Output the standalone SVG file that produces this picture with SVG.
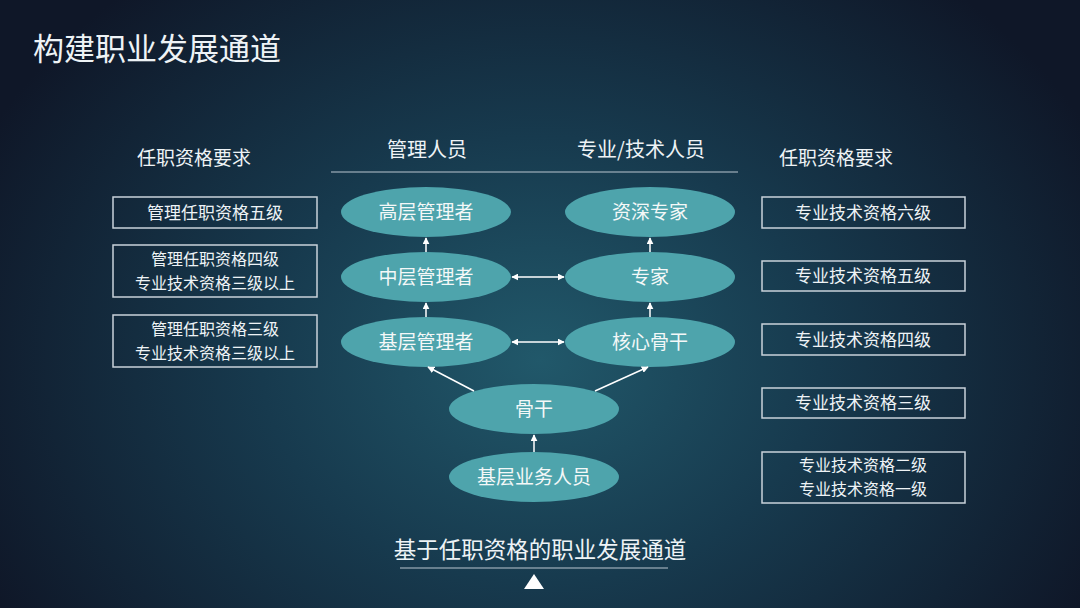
<svg xmlns="http://www.w3.org/2000/svg" width="1080" height="608" viewBox="0 0 1080 608">
<defs>
<radialGradient id="bg" cx="540" cy="360" r="620" gradientUnits="userSpaceOnUse" gradientTransform="translate(540 360) scale(1 0.8) translate(-540 -360)">
<stop offset="0" stop-color="#21586a"/>
<stop offset="0.45" stop-color="#173a4e"/>
<stop offset="1" stop-color="#0f1728"/>
</radialGradient>
<marker id="ah" viewBox="0 0 10 10" refX="9" refY="5" markerWidth="7" markerHeight="7" markerUnits="userSpaceOnUse" orient="auto-start-reverse">
<path d="M0,0 L10,5 L0,10 z" fill="#ffffff"/>
</marker>
<style>
text{font-family:"Noto Sans CJK SC","Noto Sans",sans-serif;fill:#eef3f6;text-anchor:middle;}
.node ellipse{fill:#4ea4ac;}
.node text{font-size:19px;fill:#f4f8f8;}
.box rect{fill:none;stroke:#c9d2da;stroke-width:1.5;}
.box text{font-size:17px;}
.box text.two{font-size:16px;}
.hdr{font-size:20px;}
.conn line{stroke:#ffffff;stroke-width:1.5;marker-end:url(#ah);}
.conn line.bi{marker-start:url(#ah);}
</style>
</defs>
<rect width="1080" height="608" fill="url(#bg)"/>
<text x="33" y="60" style="font-size:31px;text-anchor:start">构建职业发展通道</text>

<g id="headers">
<text class="hdr" x="194" y="165" style="font-size:19px">任职资格要求</text>
<text class="hdr" x="427" y="157">管理人员</text>
<text class="hdr" x="641" y="157">专业/技术人员</text>
<text class="hdr" x="836" y="165" style="font-size:19px">任职资格要求</text>
<line x1="331" y1="172" x2="738" y2="172" stroke="#b9c6cf" stroke-width="1.2"/>
</g>

<g id="n-gaoceng" class="node"><ellipse cx="426" cy="212" rx="85" ry="25"/><text x="426" y="219">高层管理者</text></g>
<g id="n-zishen" class="node"><ellipse cx="650" cy="212" rx="85" ry="25"/><text x="650" y="219">资深专家</text></g>
<g id="n-zhongceng" class="node"><ellipse cx="426" cy="277" rx="85" ry="25"/><text x="426" y="284">中层管理者</text></g>
<g id="n-zhuanjia" class="node"><ellipse cx="650" cy="277" rx="85" ry="25"/><text x="650" y="284">专家</text></g>
<g id="n-jiceng" class="node"><ellipse cx="426" cy="342" rx="85" ry="25"/><text x="426" y="349">基层管理者</text></g>
<g id="n-hexin" class="node"><ellipse cx="650" cy="342" rx="85" ry="25"/><text x="650" y="349">核心骨干</text></g>
<g id="n-gugan" class="node"><ellipse cx="534" cy="409" rx="85" ry="25"/><text x="534" y="416">骨干</text></g>
<g id="n-yewu" class="node"><ellipse cx="534" cy="477" rx="85" ry="25"/><text x="534" y="484">基层业务人员</text></g>

<g id="connectors" class="conn">
<line x1="426" y1="252" x2="426" y2="238"/>
<line x1="650" y1="252" x2="650" y2="238"/>
<line x1="426" y1="317" x2="426" y2="303"/>
<line x1="650" y1="317" x2="650" y2="303"/>
<line class="bi" x1="512" y1="277" x2="564" y2="277"/>
<line class="bi" x1="512" y1="342" x2="564" y2="342"/>
<line x1="474" y1="391" x2="428" y2="367"/>
<line x1="595" y1="391" x2="648" y2="367"/>
<line x1="534" y1="452" x2="534" y2="435"/>
</g>

<g id="b-l1" class="box"><rect x="113" y="197" width="204" height="31"/><text x="215" y="219">管理任职资格五级</text></g>
<g id="b-l2" class="box"><rect x="113" y="245" width="204" height="52"/><text class="two" x="215" y="265">管理任职资格四级</text><text class="two" x="215" y="289">专业技术资格三级以上</text></g>
<g id="b-l3" class="box"><rect x="113" y="315" width="204" height="52"/><text class="two" x="215" y="335">管理任职资格三级</text><text class="two" x="215" y="359">专业技术资格三级以上</text></g>

<g id="b-r1" class="box"><rect x="762" y="197" width="203" height="31"/><text x="863" y="219">专业技术资格六级</text></g>
<g id="b-r2" class="box"><rect x="762" y="261" width="203" height="30"/><text x="863" y="282">专业技术资格五级</text></g>
<g id="b-r3" class="box"><rect x="762" y="324" width="203" height="31"/><text x="863" y="346">专业技术资格四级</text></g>
<g id="b-r4" class="box"><rect x="762" y="388" width="203" height="30"/><text x="863" y="409">专业技术资格三级</text></g>
<g id="b-r5" class="box"><rect x="762" y="452" width="203" height="51"/><text class="two" x="863" y="471">专业技术资格二级</text><text class="two" x="863" y="495">专业技术资格一级</text></g>

<g id="footer">
<text x="540" y="558" style="font-size:22.5px">基于任职资格的职业发展通道</text>
<line x1="400" y1="568" x2="668" y2="568" stroke="#b9c6cf" stroke-width="1.2"/>
<polygon points="534,574 544,589 524,589" fill="#ffffff"/>
</g>
</svg>
